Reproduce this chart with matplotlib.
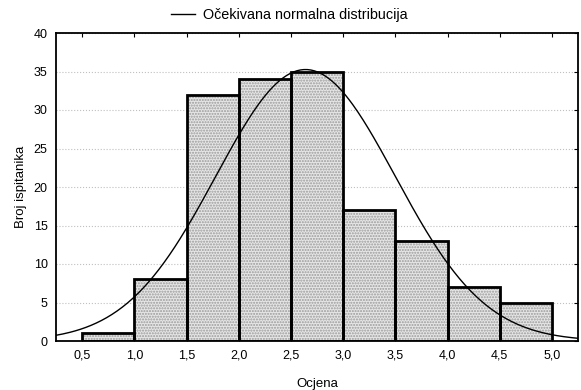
import numpy as np
import matplotlib.pyplot as plt
from matplotlib.lines import Line2D

plt.rcParams['font.family'] = ['Liberation Sans', 'DejaVu Sans']

# histogram data
bin_left = [0.5, 1.0, 1.5, 2.0, 2.5, 3.0, 3.5, 4.0, 4.5]
counts = [1, 8, 32, 34, 35, 17, 13, 7, 5]
bin_width = 0.5
x_ticks = [0.5, 1.0, 1.5, 2.0, 2.5, 3.0, 3.5, 4.0, 4.5, 5.0]
x_ticklabels = ['0,5', '1,0', '1,5', '2,0', '2,5', '3,0', '3,5', '4,0', '4,5', '5,0']
y_ticks = [0, 5, 10, 15, 20, 25, 30, 35, 40]

# fitted normal curve parameters
mean = 2.64
sd = 0.86

fig = plt.figure(figsize=(5.81, 3.90), dpi=100)
ax = fig.add_axes([56 / 581, 1 - 341 / 390, 522 / 581, 308 / 390])

ax.bar(bin_left, counts, width=bin_width, align='edge', color='#e6e6e6',
       hatch='......', edgecolor='#9a9a9a', linewidth=0, zorder=2)
ax.bar(bin_left, counts, width=bin_width, align='edge', fill=False,
       edgecolor='black', linewidth=2, zorder=3)

xs = np.linspace(0.25, 5.25, 300)
n = sum(counts)
ys = n * bin_width / (sd * np.sqrt(2 * np.pi)) * np.exp(-0.5 * ((xs - mean) / sd) ** 2)
ax.plot(xs, ys, color='black', linewidth=1, zorder=4)

ax.set_xlim(0.25, 5.25)
ax.set_ylim(0, 40)
ax.set_xticks(x_ticks)
ax.set_xticklabels(x_ticklabels)
ax.set_yticks(y_ticks)
ax.tick_params(direction='in', top=True, right=True, labelsize=9, length=3, pad=6)
ax.tick_params(axis='y', left=False)
ax.grid(axis='y', color='#c0c0c0', linestyle=':', linewidth=0.8, zorder=0)
for s in ax.spines.values():
    s.set_linewidth(1.3)

ax.set_xlabel('Ocjena', fontsize=9.5, labelpad=12)
ax.set_ylabel('Broj ispitanika', fontsize=9.5, labelpad=5)

handle = Line2D([0], [0], color='black', linewidth=1)
fig.legend([handle], ['Očekivana normalna distribucija'], loc='center',
           bbox_to_anchor=(289 / 581, 1 - 15 / 390), frameon=False,
           fontsize=10.4, handlelength=1.7, handletextpad=0.5)

fig.savefig('out.png', dpi=100)
